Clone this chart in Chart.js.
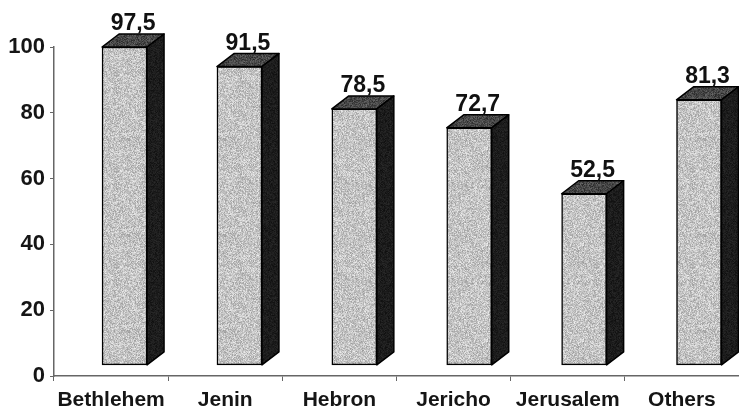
<!DOCTYPE html>
<html>
<head>
<meta charset="utf-8">
<script src="https://cdn.jsdelivr.net/npm/chart.js@4/dist/chart.umd.min.js"></script>
<style>
  html, body { margin: 0; padding: 0; background: #fff; }
  #wrap { width: 739px; height: 409px; }
</style>
</head>
<body>
<div id="wrap"><canvas id="c" width="739" height="409"></canvas></div>
<script>
// Districts and their percentages
const categories = ['Bethlehem', 'Jenin', 'Hebron', 'Jericho', 'Jerusalem', 'Others'];
const shares = [97.5, 91.5, 78.5, 72.7, 52.5, 81.3];
const yTicks = [0, 20, 40, 60, 80, 100];

const FONT = '"Liberation Sans", Arial, sans-serif';
const DEPTH_X = 17;
const DEPTH_Y = 13;

// Deterministic grain texture for the bar faces
function hash(n) {
  const s = Math.sin(n * 12.9898 + 78.233) * 43758.5453;
  return s - Math.floor(s);
}
function grain(base, spread, seed) {
  const size = 96;
  const cv = document.createElement('canvas');
  cv.width = size; cv.height = size;
  const g = cv.getContext('2d');
  const img = g.createImageData(size, size);
  for (let i = 0; i < size * size; i++) {
    const r = hash(i + seed) - 0.5;
    const r2 = hash(i * 3 + seed + 17) - 0.5;
    let v = base + r * spread + r2 * spread * 0.5;
    v = Math.max(0, Math.min(255, v));
    img.data[i * 4] = v; img.data[i * 4 + 1] = v; img.data[i * 4 + 2] = v; img.data[i * 4 + 3] = 255;
  }
  g.putImageData(img, 0, 0);
  return g.createPattern(cv, 'repeat');
}
const ctx0 = document.getElementById('c').getContext('2d');
const frontFill = grain(196, 60, 1);
const topFill = grain(72, 50, 9000);
const sideFill = grain(28, 20, 20000);

// Draws the top and right faces of each bar plus the value labels
const boxes3d = {
  id: 'boxes3d',
  afterDatasetsDraw(chart) {
    const ctx = chart.ctx;
    const meta = chart.getDatasetMeta(0);
    meta.data.forEach((bar, i) => {
      const p = bar.getProps(['x', 'y', 'base', 'width'], true);
      const l = p.x - p.width / 2, r = p.x + p.width / 2;
      const t = p.y, b = p.base;
      ctx.save();
      ctx.lineJoin = 'round';
      ctx.strokeStyle = '#000';
      ctx.lineWidth = 1.5;
      // top face
      ctx.beginPath();
      ctx.moveTo(l, t);
      ctx.lineTo(l + DEPTH_X, t - DEPTH_Y);
      ctx.lineTo(r + DEPTH_X, t - DEPTH_Y);
      ctx.lineTo(r, t);
      ctx.closePath();
      ctx.fillStyle = topFill;
      ctx.fill();
      ctx.stroke();
      // right face
      ctx.beginPath();
      ctx.moveTo(r, t);
      ctx.lineTo(r + DEPTH_X, t - DEPTH_Y);
      ctx.lineTo(r + DEPTH_X, b - DEPTH_Y);
      ctx.lineTo(r, b);
      ctx.closePath();
      ctx.fillStyle = sideFill;
      ctx.fill();
      ctx.stroke();
      // value label
      ctx.fillStyle = '#111';
      ctx.font = 'bold 23px ' + FONT;
      ctx.textAlign = 'center';
      ctx.textBaseline = 'alphabetic';
      const txt = shares[i].toFixed(1).replace('.', ',');
      ctx.fillText(txt, p.x + DEPTH_X / 2, t - DEPTH_Y - 4);
      ctx.restore();
    });
  }
};

new Chart(ctx0, {
  type: 'bar',
  data: {
    labels: categories,
    datasets: [{
      data: shares.map((v, i) => ({ x: i, y: v })),
      xAxisID: 'xb',
      yAxisID: 'yb',
      backgroundColor: frontFill,
      borderColor: '#000',
      borderWidth: 1.5,
      borderSkipped: false,
      barThickness: 45,
      clip: false
    }]
  },
  options: {
    responsive: false,
    animation: false,
    devicePixelRatio: 1,
    layout: { padding: { top: 47, right: 0, left: 0, bottom: 0 } },
    plugins: { legend: { display: false }, tooltip: { enabled: false } },
    scales: {
      x: {
        type: 'category',
        position: 'bottom',
        offset: true,
        grid: { offset: true, drawOnChartArea: false, tickLength: 5, color: '#666', lineWidth: 1 },
        border: { color: '#666', width: 1.5 },
        ticks: { color: '#151515', font: { family: FONT, size: 21, weight: 'bold' }, padding: 7, maxRotation: 0, autoSkip: false },
        afterFit(s) { s.height = 33; }
      },
      xb: {
        type: 'linear',
        display: false,
        offset: false,
        bounds: 'data',
        min: -0.614,
        max: 5.348
      },
      y: {
        type: 'linear',
        position: 'left',
        min: yTicks[0],
        max: yTicks[yTicks.length - 1],
        afterBuildTicks(s) { s.ticks = yTicks.map(v => ({ value: v })); },
        grid: { drawOnChartArea: false, tickLength: 4, color: '#666', lineWidth: 1 },
        border: { color: '#666', width: 1.5 },
        ticks: { color: '#151515', font: { family: FONT, size: 22, weight: 'bold' }, padding: 5 },
        afterFit(s) { s.width = 54; }
      },
      yb: {
        type: 'linear',
        display: false,
        min: -3.4,
        max: 97.5
      }
    }
  },
  plugins: [boxes3d]
});
</script>
</body>
</html>
